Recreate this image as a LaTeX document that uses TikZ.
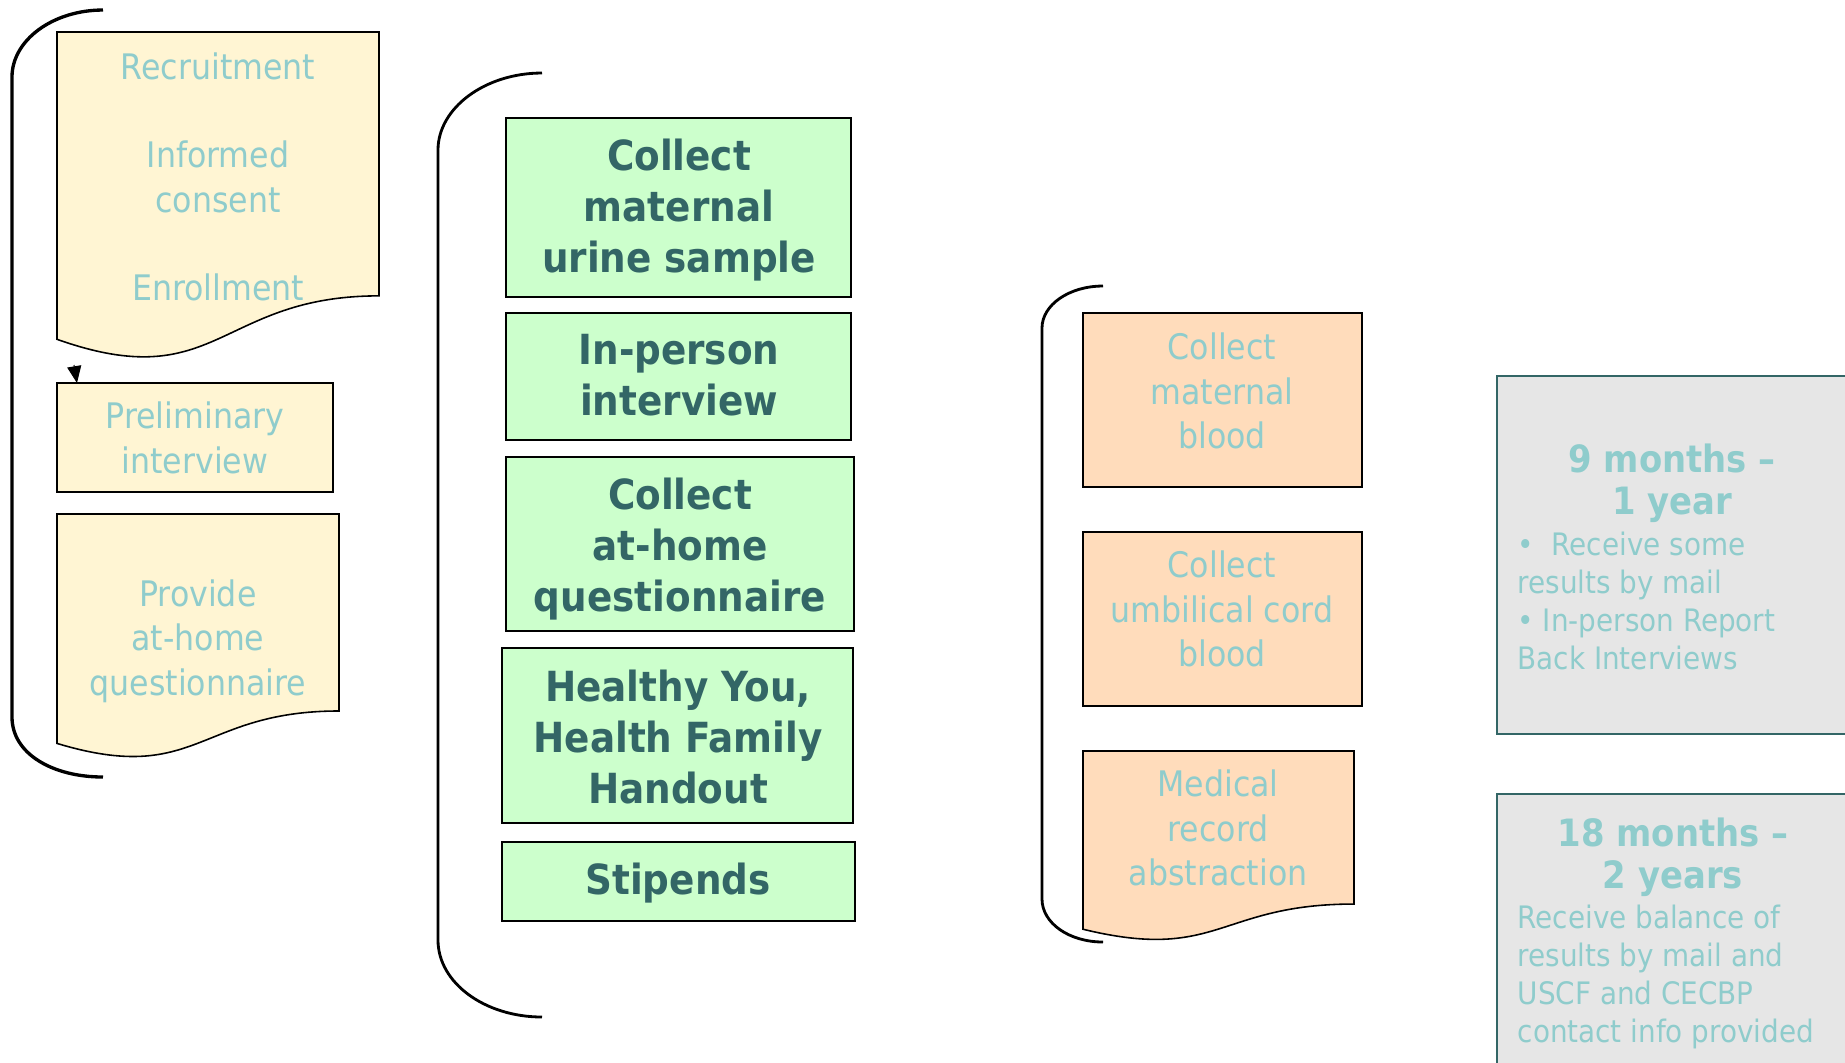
\documentclass[tikz,border=0pt]{standalone}
\usepackage{fontspec}
\setmainfont{DejaVu Sans Condensed}[BoldFont={DejaVu Sans Condensed Bold}]
\usetikzlibrary{arrows.meta}
\definecolor{docyellow}{HTML}{FFF5D3}
\definecolor{boxgreen}{HTML}{CCFFCC}
\definecolor{boxpeach}{HTML}{FFDCBB}
\definecolor{boxgrey}{HTML}{E6E6E6}
\definecolor{lightteal}{HTML}{8FCCCC}
\definecolor{darkteal}{HTML}{336666}
\tikzset{
  boxline/.style={draw=black, line width=0.45pt},
  greybox/.style={draw=darkteal, line width=0.55pt, fill=boxgrey},
  bracket/.style={line width=0.8pt},
  lighttext/.style={text=lightteal, align=center, inner sep=0pt, font=\fontsize{10pt}{12.6pt}\selectfont},
  boldtext/.style={text=darkteal, align=center, inner sep=0pt, font=\fontsize{11.8pt}{14.5pt}\selectfont\bfseries},
  greytitle/.style={text=lightteal, align=center, inner sep=0pt, font=\fontsize{10.7pt}{12pt}\selectfont\bfseries},
  greybody/.style={text=lightteal, align=left, anchor=west, inner sep=0pt, font=\fontsize{8.8pt}{10.8pt}\selectfont}
}
% document shape: left x, right x, top y, full height, style
\newcommand{\docshape}[5]{\draw[#5] (#1,#3) -- (#2,#3) -- (#2,{#3+0.802*#4}) .. controls ({(#1+#2)/2},{#3+0.802*#4}) and ({(#1+#2)/2},{#3+1.1075*#4}) .. (#1,{#3+0.934*#4}) -- cycle;}
\begin{document}
\begin{tikzpicture}[x=0.01cm, y=-0.01cm]
\useasboundingbox (0,0) rectangle (1845,1062);
% first visit
\draw[bracket, line width=0.95pt] (103,10) .. controls (53,10) and (12,40) .. (12,77) -- (12,717) .. controls (12,754) and (53,777) .. (103,777);
\docshape{57}{379}{32}{329}{boxline, fill=docyellow}
\node[lighttext] (recr) at (218,177) {Recruitment\\[12.6pt]Informed\\consent\\[12.6pt]Enrollment};
\draw[boxline, fill=docyellow] (57,383) rectangle (333,492);
\node[lighttext] (prelim) at (195,438) {Preliminary\\interview};
\coordinate (arrfrom) at (74,365);
\coordinate (arrto) at (77,383);
\draw[-{Triangle[length=4.8pt, width=4pt]}, line width=0.3pt] (arrfrom) -- (arrto);
\docshape{57}{339}{514}{245.6}{boxline, fill=docyellow}
\node[lighttext] (provide) at (198,641) {Provide\\at-home\\questionnaire};
% second visit
\draw[bracket] (542,73) .. controls (485,73) and (438,108) .. (438,150) -- (438,940) .. controls (438,983) and (485,1017) .. (542,1017);
\draw[boxline, fill=boxgreen] (506,118) rectangle (851,297);
\node[boldtext] (urine) at (679,210) {Collect\\maternal\\urine sample};
\draw[boxline, fill=boxgreen] (506,313) rectangle (851,440);
\node[boldtext] (inperson) at (679,375) {In-person\\interview};
\draw[boxline, fill=boxgreen] (506,457) rectangle (854,631);
\node[boldtext] (athome) at (680,549) {Collect\\at-home\\questionnaire};
\draw[boxline, fill=boxgreen] (502,648) rectangle (853,823);
\node[boldtext] (handout) at (678,737) {Healthy You,\\Health Family\\Handout};
\draw[boxline, fill=boxgreen] (502,842) rectangle (855,921);
\node[boldtext] (stipends) at (678,883) {Stipends};
% delivery
\draw[bracket] (1103,286) .. controls (1069,286) and (1042,305) .. (1042,328) -- (1042,899) .. controls (1042,923) and (1069,942) .. (1103,942);
\draw[boxline, fill=boxpeach] (1083,313) rectangle (1362,487);
\node[lighttext] (mblood) at (1222,391) {Collect\\maternal\\blood};
\draw[boxline, fill=boxpeach] (1083,532) rectangle (1362,706);
\node[lighttext] (cblood) at (1222,609) {Collect\\umbilical cord\\blood};
\docshape{1083}{1354}{751}{190.8}{boxline, fill=boxpeach}
\node[lighttext] (medrec) at (1218,828) {Medical\\record\\abstraction};
% report back
\draw[greybox] (1497,376) rectangle (1850,734);
\node[greytitle] (late1) at (1672,483) {9 months --\\1 year};
\node[greybody] (late1b) at (1517,601) {\textbullet\ \ Receive some\\results by mail\\\textbullet\ In-person Report\\Back Interviews};
\draw[greybox] (1497,794) rectangle (1850,1100);
\node[greytitle] (late2) at (1673,857) {18 months --\\2 years};
\node[greybody] (late2b) at (1517,977) {Receive balance of\\results by mail and\\USCF and CECBP\\contact info provided};
\end{tikzpicture}
\end{document}
